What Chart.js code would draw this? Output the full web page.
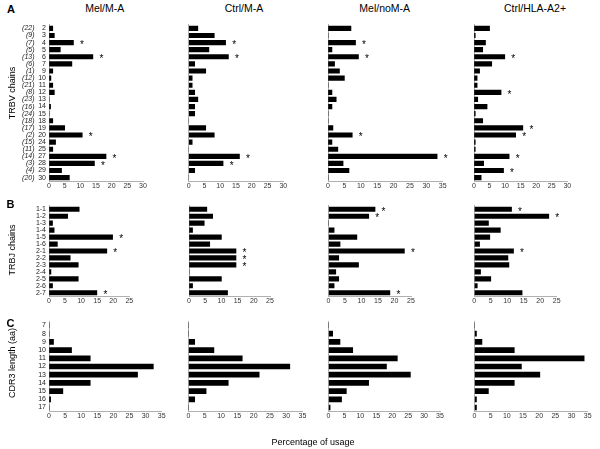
<!DOCTYPE html>
<html><head><meta charset="utf-8">
<script src="https://cdn.jsdelivr.net/npm/chart.js@4.4.1/dist/chart.umd.min.js"></script>
<style>
html,body{margin:0;padding:0;background:#fff;}
#wrap{position:relative;width:600px;height:449px;overflow:hidden;background:#fff;font-family:'Liberation Sans',Arial,Helvetica,sans-serif;}
canvas{position:absolute;}
.t{position:absolute;white-space:nowrap;transform:translate(-50%,-50%);color:#000;line-height:1;}
.r{transform:translate(-50%,-50%) rotate(-90deg);}
</style></head><body><div id="wrap"></div>
<script>
// ---------- DATA ----------
const groups = ['Mel/M-A', 'Ctrl/M-A', 'Mel/noM-A', 'Ctrl/HLA-A2+'];

const trbvGenes = ['2','3','4','5','6','7','9','10','11','12','13','14','15','18','19','20','24','25','27','28','29','30'];
const trbvRank  = ['(22)','(9)','(7)','(5)','(13)','(6)','(1)','(12)','(21)','(8)','(23)','(16)','(24)','(18)','(17)','(2)','(15)','(11)','(14)','(3)','(4)','(20)'];
const trbjGenes = ['1-1','1-2','1-3','1-4','1-5','1-6','2-1','2-2','2-3','2-4','2-5','2-6','2-7'];
const cdr3Lengths = ['7','8','9','10','11','12','13','14','15','16','17'];

// TRBV usage (%)
const trbvMelMA   = [1.2,1.7,7.8,3.6,14.0,7.3,1.2,0.6,1.2,1.7,0,0.5,0,1.2,5.0,10.6,2.1,1.2,18.2,14.5,4.0,6.5];
const trbvCtrlMA  = [2.9,8.1,11.7,6.4,12.6,1.9,5.4,1.1,1.1,1.9,2.9,1.9,1.9,0,5.4,8.1,1.1,0,16.1,10.9,1.9,0];
const trbvMelNoMA = [7.0,0,8.4,1.2,9.3,2.0,3.5,5.0,0,1.2,2.5,1.2,0,0,1.5,7.4,1.2,3.0,33.3,4.6,6.4,0];
const trbvCtrlA2  = [5.0,0.4,3.7,2.8,9.9,5.7,1.8,1.0,1.0,8.7,1.2,4.2,0.4,2.8,15.7,13.4,0.4,0.4,11.3,3.1,9.5,2.3];
// significance stars (1 = star)
const trbvStarMelMA   = [0,0,1,0,1,0,0,0,0,0,0,0,0,0,0,1,0,0,1,1,0,0];
const trbvStarCtrlMA  = [0,0,1,0,1,0,0,0,0,0,0,0,0,0,0,0,0,0,1,1,0,0];
const trbvStarMelNoMA = [0,0,1,0,1,0,0,0,0,0,0,0,0,0,0,1,0,0,1,0,0,0];
const trbvStarCtrlA2  = [0,0,0,0,1,0,0,0,0,1,0,0,0,0,1,1,0,0,1,0,1,0];

// TRBJ usage (%)
const trbjMelMA   = [9.4,5.8,1.1,1.6,19.8,2.6,18.0,6.6,9.1,0.6,9.1,1.1,14.9];
const trbjCtrlMA  = [5.5,7.3,4.7,1.1,10.0,6.4,14.5,14.5,14.5,0,10.0,1.1,11.9];
const trbjMelNoMA = [14.1,12.2,0,1.7,8.6,3.5,23.0,3.1,9.1,2.2,3.1,1.7,18.6];
const trbjCtrlA2  = [11.3,22.6,4.3,7.9,4.7,1.6,11.9,10.2,10.5,1.9,5.0,0.9,14.5];
const trbjStarMelMA   = [0,0,0,0,1,0,1,0,0,0,0,0,1];
const trbjStarCtrlMA  = [0,0,0,0,0,0,1,1,1,0,0,0,0];
const trbjStarMelNoMA = [1,1,0,0,0,0,1,0,0,0,0,0,1];
const trbjStarCtrlA2  = [1,1,0,0,0,0,1,0,0,0,0,0,0];

// CDR3 length usage (%)
const cdr3MelMA   = [0,0,1.4,7.0,12.8,32.4,27.5,12.8,4.3,0.5,0];
const cdr3CtrlMA  = [0,0,1.9,7.8,16.5,31.1,21.7,12.2,5.4,1.9,0];
const cdr3MelNoMA = [0,1.3,3.6,7.6,21.6,18.2,25.7,12.6,5.6,4.1,0.5];
const cdr3CtrlA2  = [0,0.6,2.3,12.3,33.9,14.5,20.2,12.3,4.3,0.6,0.6];

// axis maxima (tick labels every 5)
const trbvAxisMax = [30, 30, 35, 30];
const trbjAxisMax = [25, 25, 25, 25];
const cdr3AxisMax = [35, 35, 35, 35];

// ---------- LAYOUT ----------
const FONT = "'Liberation Sans', Arial, Helvetica, sans-serif";
const wrap = document.getElementById('wrap');

function addText(txt, x, y, size, opts) {
  opts = opts || {};
  const d = document.createElement('div');
  d.className = 't' + (opts.rot ? ' r' : '');
  d.textContent = txt;
  d.style.left = x + 'px'; d.style.top = y + 'px';
  d.style.fontSize = size + 'px';
  if (opts.bold) d.style.fontWeight = 'bold';
  if (opts.italic) d.style.fontStyle = 'italic';
  wrap.appendChild(d);
}

const rowGeom = {
  A: { T: 24.8, B: 181.2, thick: 4.5 },
  B: { T: 205.8, B: 296.2, thick: 4.5 },
  C: { T: 321.4, B: 411.6, thick: 5 }
};
const colGeom = {
  A: [[49,143],[188.7,283.3],[328,442.7],[474,567.3]],
  B: [[49,129.3],[189,270],[328.5,411],[474.3,556.7]],
  C: [[49,161.7],[188.5,302.5],[328.5,440],[474.5,587.7]]
};

function makePanel(rowKey, ci, labels, values, maxV, stars, rankLabels) {
  const g = rowGeom[rowKey];
  const L = colGeom[rowKey][ci][0], R = colGeom[rowKey][ci][1];
  const first = ci === 0;
  const xH = 14;
  const cx = first ? 14 : Math.floor(L - 10);
  const cy = Math.floor(g.T - 8);
  const cr = Math.min(600, Math.ceil(R + 10));
  const cb = Math.ceil(g.B + xH + 4);
  const w = cr - cx, h = cb - cy;
  const padL = first ? 2 : (L - cx);
  const yW = first ? (L - cx - 2) : 0;

  const cv = document.createElement('canvas');
  cv.width = w; cv.height = h;
  cv.style.left = cx + 'px'; cv.style.top = cy + 'px';
  cv.style.width = w + 'px'; cv.style.height = h + 'px';
  wrap.appendChild(cv);

  const plugins = [{
    id: 'stars' + rowKey + ci,
    afterDatasetsDraw(chart) {
      if (!stars) return;
      const meta = chart.getDatasetMeta(0);
      const ctx = chart.ctx;
      ctx.save();
      ctx.fillStyle = '#000';
      ctx.font = '10px ' + FONT;
      ctx.textAlign = 'center';
      ctx.textBaseline = 'middle';
      meta.data.forEach((bar, i) => { if (stars[i]) ctx.fillText('*', bar.x + 8.5, bar.y + 2.5); });
      ctx.restore();
    }
  }];
  if (rankLabels) {
    plugins.push({
      id: 'rank',
      afterDraw(chart) {
        const ctx = chart.ctx, ys = chart.scales.y;
        ctx.save();
        ctx.fillStyle = '#222';
        ctx.font = 'italic 7px ' + FONT;
        ctx.textAlign = 'right';
        ctx.textBaseline = 'middle';
        rankLabels.forEach((t, i) => ctx.fillText(t, 34.5 - cx, ys.getPixelForTick(i)));
        ctx.restore();
      }
    });
  }

  new Chart(cv, {
    type: 'bar',
    data: {
      labels: labels,
      datasets: [{ data: values, backgroundColor: '#000', borderWidth: 0, barThickness: g.thick }]
    },
    options: {
      indexAxis: 'y',
      responsive: false,
      animation: false,
      devicePixelRatio: 1,
      layout: { padding: { left: padL, right: cr - R, top: g.T - cy, bottom: cb - g.B - xH } },
      plugins: { legend: { display: false }, tooltip: { enabled: false }, title: { display: false } },
      scales: {
        x: {
          type: 'linear', min: 0, max: maxV,
          ticks: { stepSize: 5, color: '#333', padding: 1, font: { size: 7, family: FONT, lineHeight: 1 } },
          grid: { drawOnChartArea: false, drawTicks: false, tickLength: 0 },
          border: { display: true, color: '#b0b0b0', width: 1 },
          afterFit(s) { s.height = xH; s.paddingLeft = 0; s.paddingRight = 0; }
        },
        y: {
          type: 'category', offset: true,
          ticks: { display: first, color: '#222', padding: 3, font: { size: 7, family: FONT, lineHeight: 1 }, autoSkip: false },
          grid: { display: false, drawTicks: false, tickLength: 0 },
          border: { display: true, color: '#b0b0b0', width: 1 },
          afterFit(s) { s.width = yW; s.paddingTop = 0; s.paddingBottom = 0; }
        }
      }
    },
    plugins: plugins
  });
}

const trbvSeries = [trbvMelMA, trbvCtrlMA, trbvMelNoMA, trbvCtrlA2];
const trbvStars = [trbvStarMelMA, trbvStarCtrlMA, trbvStarMelNoMA, trbvStarCtrlA2];
const trbjSeries = [trbjMelMA, trbjCtrlMA, trbjMelNoMA, trbjCtrlA2];
const trbjStars = [trbjStarMelMA, trbjStarCtrlMA, trbjStarMelNoMA, trbjStarCtrlA2];
const cdr3Series = [cdr3MelMA, cdr3CtrlMA, cdr3MelNoMA, cdr3CtrlA2];

for (let c = 0; c < 4; c++) {
  makePanel('A', c, trbvGenes, trbvSeries[c], trbvAxisMax[c], trbvStars[c], c === 0 ? trbvRank : null);
  makePanel('B', c, trbjGenes, trbjSeries[c], trbjAxisMax[c], trbjStars[c], null);
  makePanel('C', c, cdr3Lengths, cdr3Series[c], cdr3AxisMax[c], null, null);
}

// ---------- TEXT ----------
const titleX = [104.7, 244, 384.7, 535];
groups.forEach((gname, i) => addText(gname, titleX[i], 8, 10.5));
addText('A', 11, 9, 11, { bold: true });
addText('B', 10.5, 203.5, 11, { bold: true });
addText('C', 10.5, 323, 11, { bold: true });
addText('TRBV chains', 12, 93, 9, { rot: true });
addText('TRBJ chains', 12, 250, 9, { rot: true });
addText('CDR3 length (aa)', 12, 363, 9, { rot: true });
addText('Percentage of usage', 313, 442, 9);
</script></body></html>
